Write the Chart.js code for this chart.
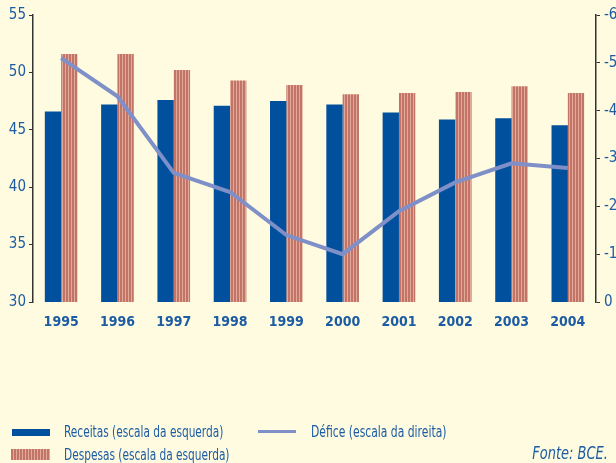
<!DOCTYPE html>
<html>
<head>
<meta charset="utf-8">
<script src="https://cdn.jsdelivr.net/npm/chart.js@4.4.0/dist/chart.umd.min.js"></script>
<style>
  body { margin: 0; background: #fefbe0; }
  #wrap { position: relative; width: 616px; height: 463px; overflow: hidden; background: #fefbe0; }
  #chart1 { position: absolute; left: 0; top: 0; }
  .leg { position: absolute; font-family: "DejaVu Sans Condensed", sans-serif; font-size: 16px; color: #1d5ca3; white-space: nowrap; line-height: 16px; transform-origin: left center; }
  .sw { position: absolute; }
</style>
</head>
<body>
<div id="wrap">
  <canvas id="chart1" width="616" height="463"></canvas>
  <div class="sw" style="left:12px;top:429px;width:38px;height:7px;background:#00509e"></div>
  <div class="leg" style="left:64px;top:424px;transform:scaleX(0.735)">Receitas (escala da esquerda)</div>
  <div class="sw" style="left:11px;top:449px;width:39px;height:11px;background:repeating-linear-gradient(90deg,#c27466 0px,#c27466 2px,#e2aa9a 2px,#e2aa9a 3px)"></div>
  <div class="leg" style="left:64px;top:447px;transform:scaleX(0.735)">Despesas (escala da esquerda)</div>
  <div class="sw" style="left:258px;top:430px;width:38px;height:3px;background:#7f90c8"></div>
  <div class="leg" style="left:311px;top:424px;transform:scaleX(0.75)">Défice (escala da direita)</div>
  <div class="leg" style="right:8px;top:445px;font-style:italic;font-size:17px;transform-origin:right center;transform:scaleX(0.85)">Fonte: BCE.</div>
</div>
<script>
//data
const years = ['1995', '1996', '1997', '1998', '1999', '2000', '2001', '2002', '2003', '2004'];
const receitas = [46.6, 47.2, 47.6, 47.1, 47.5, 47.2, 46.5, 45.9, 46.0, 45.4];
const despesas = [51.6, 51.6, 50.2, 49.3, 48.9, 48.1, 48.2, 48.3, 48.8, 48.2];
const defice = [-5.1, -4.3, -2.7, -2.3, -1.4, -1.0, -1.9, -2.5, -2.9, -2.8];

//striped fill for despesas
var pc = document.createElement('canvas');
pc.width = 3; pc.height = 3;
var pctx = pc.getContext('2d');
pctx.fillStyle = '#e2aa9a';
pctx.fillRect(0, 0, 3, 3);
pctx.fillStyle = '#c27466';
pctx.fillRect(0, 0, 2, 3);
var stripes = pctx.createPattern(pc, 'repeat');

const fam = '"DejaVu Sans Condensed", sans-serif';

const data = {
    labels: years,
    datasets: [{
        type: 'line',
        label: 'Défice (escala da direita)',
        data: defice,
        yAxisID: 'y2',
        borderColor: '#7f90c8',
        borderWidth: 4,
        pointRadius: 0,
        tension: 0,
        order: 0
    }, {
        label: 'Receitas (escala da esquerda)',
        data: receitas,
        backgroundColor: '#00509e',
        yAxisID: 'y',
        barPercentage: 1,
        categoryPercentage: 0.58,
        order: 1
    }, {
        label: 'Despesas (escala da esquerda)',
        data: despesas,
        backgroundColor: stripes,
        yAxisID: 'y',
        barPercentage: 1,
        categoryPercentage: 0.58,
        order: 2
    }]
};

const config = {
    type: 'bar',
    data: data,
    options: {
        responsive: false,
        animation: false,
        layout: { padding: { top: 15, left: 0, right: 0, bottom: 0 } },
        plugins: { legend: { display: false }, tooltip: { enabled: false } },
        scales: {
            x: {
                grid: { display: false, drawTicks: false },
                border: { display: false },
                ticks: { color: '#1d5ca3', padding: 12, font: { family: fam, size: 14, weight: 'bold' } },
                afterFit: function(axis) { axis.height = 161; }
            },
            y: {
                position: 'left',
                min: 30, max: 55,
                ticks: { stepSize: 5, color: '#1d5ca3', padding: 3, font: { family: fam, size: 15 } },
                grid: { drawOnChartArea: false, tickLength: 4, color: '#333333' },
                border: { display: true, color: '#333333', width: 1.5 },
                afterFit: function(axis) { axis.width = 33; }
            },
            y2: {
                position: 'right',
                min: -6, max: 0,
                reverse: true,
                ticks: { stepSize: 1, color: '#1d5ca3', padding: 4, font: { family: fam, size: 15 } },
                grid: { drawOnChartArea: false, tickLength: 4, color: '#333333' },
                border: { display: true, color: '#333333', width: 1.5 },
                afterFit: function(axis) { axis.width = 20; }
            }
        }
    }
};

const myChart = new Chart(document.getElementById('chart1'), config);
</script>
</body>
</html>
